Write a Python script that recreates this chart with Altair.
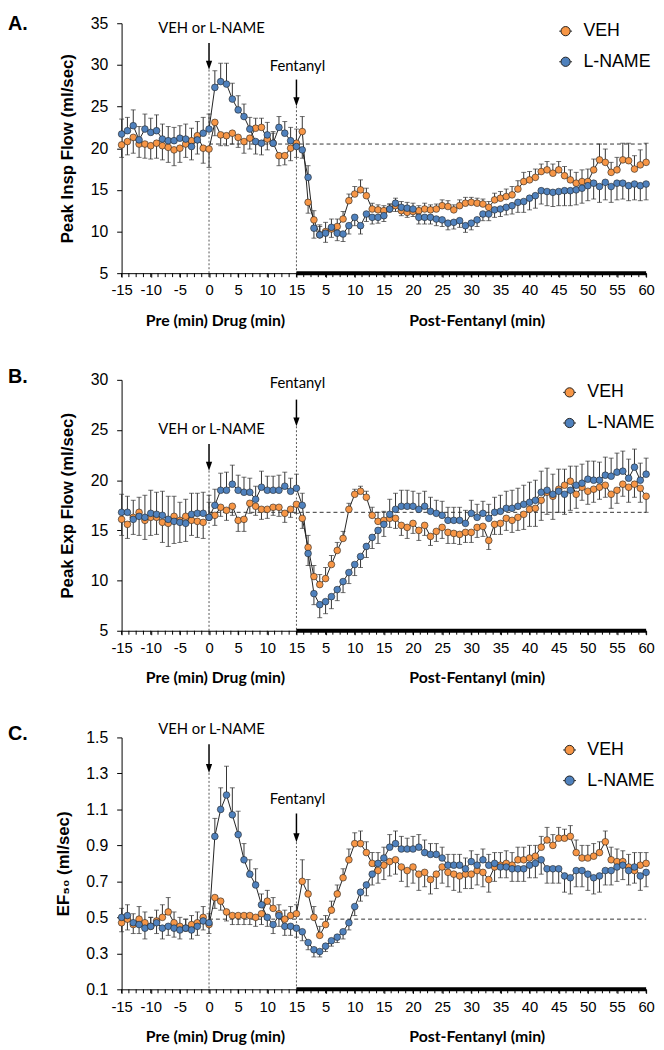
import altair as alt
import pandas as pd

# ---------------- time bases ----------------
PRE_T = list(range(-15, 1))      # pre-drug minutes
DRUG_T = list(range(1, 16))      # drug minutes
POST_T = list(range(1, 61))      # post-fentanyl minutes
DRUG_LEN = 15

# ---------------- Panel A : Peak Insp Flow ----------------
A_VEH = ([20.4, 20.8, 21.3, 20.5, 20.5, 20.3, 20.6, 20.3, 20.1, 19.8, 20.0, 20.5, 20.9, 21.5, 20.0, 19.9] +
         [23.1, 21.6, 21.5, 21.8, 21.3, 20.8, 21.2, 22.4, 22.5, 21.1, 20.6, 19.1, 19.1, 20.0, 20.6] +
         [22.0, 13.5, 11.4, 9.6, 10.0, 10.3, 10.6, 11.5, 13.7, 14.5,
          15.0, 14.3, 12.7, 12.6, 12.5, 12.7, 13.1, 12.5, 12.3, 12.4,
          12.5, 12.7, 12.6, 12.7, 13.1, 13.0, 12.6, 13.1, 13.4, 13.5,
          13.4, 13.3, 12.9, 13.8, 14.0, 14.2, 14.4, 15.1, 16.0, 16.2,
          16.5, 17.2, 17.4, 17.0, 17.4, 16.7, 16.2, 15.8, 16.0, 16.0,
          17.4, 18.6, 18.3, 17.1, 17.4, 18.6, 18.5, 17.5, 18.0, 18.3])
A_VEH_SEM = ([1.5, 1.6, 1.9, 1.6, 1.7, 1.6, 1.8, 1.7, 1.8, 1.9, 1.7, 1.6, 1.5, 1.7, 1.8, 2.2] +
             [1.6, 1.3, 1.2, 1.3, 1.2, 1.4, 1.3, 1.2, 1.1, 1.3, 1.2, 1.2, 1.1, 1.5, 1.7] +
             [1.8, 1.3, 1.1, 1.2, 1.1, 1.0, 0.9, 0.9, 0.8, 0.9,
              1.2, 0.9, 0.7, 0.6, 0.6, 0.6, 0.7, 0.6, 0.6, 0.6,
              0.6, 0.7, 0.6, 0.6, 0.7, 0.7, 0.6, 0.7, 0.7, 0.6,
              0.6, 0.6, 0.7, 0.8, 0.8, 0.9, 1.0, 1.0, 1.1, 1.0,
              1.0, 0.9, 1.0, 1.1, 1.0, 1.1, 1.2, 1.3, 1.4, 1.5,
              1.3, 1.9, 1.6, 1.2, 1.5, 2.0, 2.1, 1.6, 1.8, 2.3])
A_LNAME = ([21.7, 22.1, 22.7, 21.0, 22.3, 21.9, 22.1, 21.1, 20.9, 20.9, 21.2, 21.1, 20.2, 21.0, 21.8, 22.3] +
           [27.3, 28.0, 27.7, 25.9, 24.6, 23.8, 22.3, 20.8, 20.6, 21.6, 20.6, 22.5, 21.8, 20.9, 20.2] +
           [19.8, 16.5, 10.4, 9.6, 9.8, 10.5, 9.8, 9.7, 10.7, 11.7,
            10.7, 12.1, 11.7, 11.7, 11.9, 12.7, 13.4, 12.9, 12.8, 12.7,
            11.7, 11.7, 11.7, 11.5, 11.4, 11.0, 11.1, 11.3, 10.7, 11.0,
            11.4, 12.1, 12.1, 12.6, 12.7, 12.9, 13.1, 13.5, 13.6, 14.0,
            14.3, 14.9, 14.8, 14.7, 14.8, 14.9, 14.9, 15.0, 15.2, 15.5,
            15.8, 15.4, 15.9, 15.4, 15.8, 15.8, 15.5, 15.7, 15.5, 15.7])
A_LNAME_SEM = ([1.8, 1.6, 1.9, 1.6, 1.8, 1.7, 1.9, 1.8, 1.7, 1.6, 1.5, 1.8, 1.6, 1.7, 1.9, 1.8] +
               [2.0, 2.2, 2.5, 1.9, 1.7, 1.5, 1.4, 1.5, 1.4, 1.5, 1.4, 1.3, 1.4, 1.6, 1.3] +
               [1.0, 1.4, 1.2, 1.0, 1.1, 1.0, 0.9, 0.9, 1.0, 1.0,
                1.0, 0.9, 0.8, 0.7, 0.7, 0.6, 0.6, 0.7, 0.7, 0.7,
                0.8, 0.8, 0.8, 0.8, 0.8, 0.8, 0.8, 0.8, 0.8, 0.8,
                0.8, 0.8, 0.8, 0.9, 0.9, 0.9, 1.0, 1.2, 1.3, 1.4,
                1.5, 1.6, 1.7, 1.7, 1.7, 1.8, 1.8, 1.8, 1.8, 1.8,
                1.9, 1.9, 2.1, 1.9, 2.0, 1.9, 1.8, 1.9, 1.8, 1.9])

# ---------------- Panel B : Peak Exp Flow ----------------
B_VEH = ([16.1, 15.6, 16.3, 16.8, 16.0, 16.3, 16.3, 15.8, 15.7, 16.4, 16.0, 16.4, 16.0, 15.9, 15.8, 16.3] +
         [16.5, 17.3, 17.0, 17.4, 16.0, 16.1, 17.7, 17.4, 17.1, 17.1, 17.3, 17.3, 16.7, 17.1, 17.6] +
         [16.2, 13.3, 10.4, 9.6, 10.2, 11.6, 13.0, 14.2, 17.1, 18.6,
          18.9, 18.3, 16.5, 15.9, 16.0, 16.2, 16.2, 15.5, 15.3, 15.7,
          15.0, 15.5, 14.4, 14.9, 15.3, 14.8, 14.7, 14.6, 14.8, 14.8,
          15.3, 15.4, 14.0, 15.6, 15.7, 16.2, 16.0, 16.3, 16.6, 17.1,
          17.2, 18.0, 18.8, 18.4, 19.1, 19.5, 19.9, 18.6, 19.3, 18.9,
          19.1, 19.3, 19.5, 18.6, 19.0, 19.6, 19.3, 19.6, 19.2, 18.4])
B_VEH_SEM = ([1.6, 1.4, 1.7, 1.5, 1.9, 1.8, 1.7, 2.0, 2.3, 2.0, 1.8, 1.7, 1.5, 1.6, 1.6, 1.5] +
             [1.0, 0.9, 1.0, 0.9, 1.1, 1.2, 1.0, 0.9, 1.0, 0.9, 0.8, 0.9, 0.9, 0.8, 0.9] +
             [1.0, 1.2, 1.1, 1.0, 1.1, 0.9, 0.8, 0.7, 0.6, 0.5,
              0.5, 0.6, 0.8, 0.9, 0.9, 0.9, 1.0, 1.0, 1.1, 1.0,
              1.0, 1.0, 0.9, 1.0, 1.1, 1.1, 1.0, 1.0, 1.0, 1.0,
              1.0, 1.0, 0.9, 1.0, 1.1, 1.2, 1.2, 1.3, 1.5, 1.7,
              1.8, 2.0, 2.2, 2.3, 2.0, 1.6, 1.5, 1.4, 1.3, 1.3,
              1.3, 1.2, 1.2, 1.4, 1.3, 1.2, 1.5, 1.3, 1.4, 1.6])
B_LNAME = ([16.8, 16.8, 16.1, 16.4, 16.3, 16.7, 16.6, 16.5, 16.1, 15.9, 15.8, 15.7, 16.6, 16.7, 16.7, 16.3] +
           [17.5, 19.0, 19.0, 19.6, 19.0, 18.8, 18.8, 18.1, 19.3, 19.0, 19.0, 19.0, 19.4, 18.9, 19.2] +
           [17.5, 12.7, 8.7, 7.6, 7.9, 8.4, 9.1, 9.9, 10.8, 11.6,
            12.4, 13.4, 14.3, 15.0, 15.6, 16.6, 17.1, 17.4, 17.4, 17.4,
            17.1, 17.4, 16.9, 16.7, 16.5, 16.0, 16.0, 16.0, 15.7, 16.7,
            16.3, 16.7, 16.2, 16.8, 16.9, 17.2, 17.2, 17.4, 17.6, 17.8,
            18.0, 18.8, 19.0, 18.6, 18.9, 18.6, 19.0, 19.5, 19.7, 20.1,
            20.0, 20.0, 20.5, 20.4, 20.8, 20.9, 20.2, 21.3, 20.0, 20.6])
B_LNAME_SEM = ([1.8, 1.6, 1.5, 1.9, 2.2, 2.3, 2.2, 2.4, 2.3, 2.2, 2.0, 1.8, 2.1, 2.0, 2.1, 2.2] +
               [1.6, 1.7, 1.8, 1.9, 1.5, 1.5, 1.4, 1.3, 1.6, 1.4, 1.4, 1.5, 1.4, 1.3, 1.4] +
               [1.2, 1.2, 1.1, 1.3, 1.2, 1.2, 1.1, 1.1, 1.1, 1.1,
                1.1, 1.1, 1.1, 1.3, 1.2, 1.5, 1.6, 1.6, 1.6, 1.5,
                1.6, 1.5, 1.4, 1.3, 1.4, 1.3, 1.3, 1.3, 1.3, 1.3,
                1.3, 1.2, 1.4, 1.5, 1.6, 1.7, 1.8, 1.8, 1.9, 2.0,
                2.0, 2.1, 2.2, 2.0, 2.1, 2.0, 2.0, 1.9, 1.9, 1.8,
                1.9, 1.8, 1.8, 1.8, 1.9, 2.0, 1.9, 1.8, 1.7, 1.6])

# ---------------- Panel C : EF50 ----------------
C_VEH = ([0.47, 0.49, 0.46, 0.49, 0.47, 0.45, 0.48, 0.50, 0.53, 0.47, 0.45, 0.44, 0.46, 0.47, 0.50, 0.46] +
         [0.61, 0.59, 0.53, 0.51, 0.51, 0.51, 0.51, 0.50, 0.52, 0.59, 0.55, 0.52, 0.49, 0.51, 0.52] +
         [0.70, 0.63, 0.50, 0.40, 0.46, 0.54, 0.63, 0.72, 0.82, 0.91,
          0.91, 0.86, 0.80, 0.76, 0.79, 0.81, 0.82, 0.78, 0.76, 0.78,
          0.74, 0.75, 0.71, 0.74, 0.78, 0.75, 0.74, 0.73, 0.74, 0.74,
          0.76, 0.75, 0.71, 0.78, 0.79, 0.80, 0.79, 0.82, 0.82, 0.83,
          0.84, 0.89, 0.93, 0.90, 0.94, 0.94, 0.95, 0.86, 0.83, 0.83,
          0.84, 0.86, 0.92, 0.82, 0.81, 0.81, 0.78, 0.76, 0.79, 0.80])
C_VEH_SEM = ([0.05, 0.06, 0.05, 0.07, 0.06, 0.05, 0.06, 0.07, 0.08, 0.06, 0.05, 0.05, 0.05, 0.06, 0.06, 0.05] +
             [0.06, 0.05, 0.05, 0.05, 0.05, 0.05, 0.05, 0.05, 0.06, 0.06, 0.06, 0.05, 0.05, 0.05, 0.05] +
             [0.12, 0.08, 0.06, 0.05, 0.05, 0.05, 0.05, 0.05, 0.06, 0.06,
              0.07, 0.06, 0.06, 0.07, 0.08, 0.08, 0.08, 0.08, 0.09, 0.09,
              0.09, 0.08, 0.08, 0.08, 0.09, 0.08, 0.09, 0.09, 0.08, 0.08,
              0.08, 0.08, 0.07, 0.08, 0.07, 0.07, 0.07, 0.07, 0.07, 0.07,
              0.06, 0.06, 0.07, 0.06, 0.06, 0.05, 0.06, 0.07, 0.07, 0.07,
              0.07, 0.06, 0.06, 0.07, 0.07, 0.06, 0.07, 0.07, 0.07, 0.06])
C_LNAME = ([0.50, 0.51, 0.47, 0.46, 0.44, 0.45, 0.47, 0.44, 0.45, 0.44, 0.43, 0.44, 0.43, 0.45, 0.48, 0.47] +
           [0.95, 1.10, 1.18, 1.07, 0.96, 0.82, 0.74, 0.68, 0.57, 0.50, 0.46, 0.51, 0.45, 0.45, 0.44] +
           [0.42, 0.36, 0.32, 0.31, 0.34, 0.37, 0.39, 0.42, 0.47, 0.56,
            0.64, 0.68, 0.74, 0.80, 0.83, 0.89, 0.91, 0.88, 0.88, 0.88,
            0.89, 0.86, 0.85, 0.85, 0.83, 0.79, 0.79, 0.79, 0.77, 0.81,
            0.79, 0.82, 0.79, 0.80, 0.78, 0.78, 0.77, 0.77, 0.77, 0.79,
            0.80, 0.82, 0.77, 0.77, 0.77, 0.73, 0.72, 0.76, 0.76, 0.74,
            0.72, 0.73, 0.76, 0.76, 0.78, 0.79, 0.76, 0.78, 0.73, 0.75])
C_LNAME_SEM = ([0.05, 0.06, 0.05, 0.05, 0.06, 0.05, 0.06, 0.06, 0.05, 0.05, 0.05, 0.05, 0.05, 0.05, 0.05, 0.05] +
               [0.10, 0.12, 0.16, 0.15, 0.13, 0.09, 0.08, 0.09, 0.06, 0.05, 0.05, 0.06, 0.05, 0.05, 0.05] +
               [0.05, 0.04, 0.04, 0.03, 0.03, 0.03, 0.03, 0.04, 0.04, 0.05,
                0.05, 0.06, 0.06, 0.06, 0.06, 0.07, 0.07, 0.07, 0.06, 0.07,
                0.07, 0.07, 0.06, 0.06, 0.06, 0.06, 0.06, 0.06, 0.06, 0.06,
                0.06, 0.06, 0.06, 0.06, 0.06, 0.06, 0.07, 0.07, 0.07, 0.07,
                0.08, 0.08, 0.08, 0.08, 0.08, 0.09, 0.09, 0.09, 0.09, 0.09,
                0.09, 0.09, 0.08, 0.08, 0.08, 0.08, 0.08, 0.08, 0.08, 0.08])

SERIES = ["VEH", "L-NAME"]
COLORS = ["#F79646", "#4F81BD"]

SANS = "Liberation Sans, Arial, sans-serif"
CAL = "Lato, Carlito, Calibri, sans-serif"
W = 531
ONE = pd.DataFrame({"k": [0]})
ARROW_HEAD = "M-0.7,-1L0,1L0.7,-1Z"
LEG_SYMBOL = ("M-1,0L-0.72,0M0.72,0L1,0M-0.72,0A0.72,0.72 0 1,0 0.72,0"
              "A0.72,0.72 0 1,0 -0.72,0Z")

X_MAJOR = [-15 + 5 * i for i in range(19)]
X_MINOR = pd.DataFrame({"pos": [-15 + 1.25 * i for i in range(73)]})
X_LABEL_EXPR = "datum.value > 15 ? '' + (datum.value - 15) : '' + datum.value"


def build(veh, veh_sem, ln, ln_sem):
    pos = PRE_T + DRUG_T + [DRUG_LEN + t for t in POST_T]
    rows = []
    for name, vals, sems, other in (("VEH", veh, veh_sem, ln), ("L-NAME", ln, ln_sem, veh)):
        for p, v, s, o in zip(pos, vals, sems, other):
            d = 1 if v >= o else -1
            rows.append({"pos": p, "value": v, "series": name, "cap": v + d * s})
    return pd.DataFrame(rows)


def note(text, x, y, size, font, weight="normal", align="center", baseline="middle", opacity=1.0):
    return alt.Chart(ONE).mark_text(
        text=text, font=font, fontSize=size, fontWeight=weight, align=align,
        baseline=baseline, color="black", opacity=opacity
    ).encode(x=alt.value(x), y=alt.value(y))


def arrow(xv, y0, y1, h):
    shaft = alt.Chart(ONE).mark_rule(color="black", strokeWidth=1.5).encode(
        x=alt.datum(xv), y=alt.value(y0), y2=alt.value(y1 - 6))
    head = alt.Chart(ONE).mark_point(shape=ARROW_HEAD, filled=True, color="black",
                                     size=81, opacity=1).encode(
        x=alt.datum(xv), y=alt.value(y1 - 4.5))
    dots = alt.Chart(ONE).mark_rule(color="#555", strokeWidth=1, strokeDash=[2, 2]).encode(
        x=alt.datum(xv), y=alt.value(y1), y2=alt.value(h))
    return [dots, shaft, head]


def panel(letter, df, ytitle, ydom, yvals, yfmt, base, h, ann, leg):
    xs = alt.Scale(domain=[-15, 75], nice=False, zero=False)
    ys = alt.Scale(domain=ydom, nice=False, zero=False)
    xax = alt.Axis(values=X_MAJOR, tickCount=200, labelExpr=X_LABEL_EXPR, title=None,
                   labelOverlap=False, labelFlush=False, labelFont=SANS, labelFontSize=15,
                   tickSize=4, labelPadding=6, domainColor="black", tickColor="black",
                   labelColor="black", grid=False)
    yax = alt.Axis(values=yvals, tickCount=200, format=yfmt, title=ytitle, labelFont=SANS,
                   labelFontSize=16, labelOverlap=False, labelFlush=False,
                   tickSize=5, labelPadding=9, titleFont=SANS, titleFontSize=17,
                   titleFontWeight="bold", titlePadding=14, titleColor="black",
                   domainColor="black", tickColor="black", labelColor="black", grid=False)
    X = alt.X("pos:Q", scale=xs, axis=xax)
    Y = alt.Y("value:Q", scale=ys, axis=yax)
    Ycap = alt.Y("cap:Q", scale=ys, axis=yax)

    c = alt.Chart(df)
    minor = alt.Chart(X_MINOR).mark_rule(color="black", strokeWidth=1).encode(
        x=X, y=alt.value(h), y2=alt.value(h + 4))
    err = c.mark_rule(color="#333", strokeWidth=1).encode(x=X, y=Y, y2="cap:Q")
    caps = c.mark_tick(color="#333", orient="horizontal", size=5, thickness=1).encode(x=X, y=Ycap)
    line = c.mark_line(color="#222", strokeWidth=1).encode(x=X, y=Y, detail="series:N", order="pos:Q")
    pts = c.mark_point(filled=True, shape="circle", size=46, stroke="#222", strokeWidth=0.6,
                       opacity=1).encode(
        x=X, y=Y,
        fill=alt.Fill("series:N", sort=SERIES,
                      scale=alt.Scale(domain=SERIES, range=COLORS),
                      legend=alt.Legend(title=None, orient="none", legendX=leg[0], legendY=leg[1],
                                        symbolType=LEG_SYMBOL, symbolSize=169,
                                        symbolStrokeColor="#222", symbolStrokeWidth=1,
                                        labelFont=SANS, labelFontSize=18, labelColor="black",
                                        rowPadding=13, labelOffset=9, padding=0,
                                        symbolOpacity=1)))

    dashed = alt.Chart(ONE).mark_rule(color="#333", strokeWidth=1, strokeDash=[4, 3]).encode(
        x=alt.datum(0), x2=alt.datum(75), y=alt.datum(base))
    bar = alt.Chart(ONE).mark_rule(color="black", strokeWidth=4).encode(
        x=alt.datum(DRUG_LEN), x2=alt.datum(75), y=alt.value(h))

    layers = [minor]
    layers += arrow(0, ann["a0"][0], ann["a0"][1], h)
    layers += arrow(DRUG_LEN, ann["a15"][0], ann["a15"][1], h)
    layers += [dashed, bar, err, caps, line, pts]
    layers += [
        note("VEH or L-NAME", 91, ann["t0"], 15, CAL),
        note("Fentanyl", 178, ann["t15"], 15, CAL),
        note(letter, -115, ann["letter"], 20, SANS, weight="bold", align="left", baseline="top"),
        note("Pre (min)    Drug (min)", 95, h + 48, 16, CAL, weight="bold"),
        note("Post-Fentanyl (min)", 360, h + 48, 16, CAL, weight="bold"),
    ]
    if ann.get("spacer") is not None:
        layers.append(note(".", 0, ann["spacer"], 10, SANS, baseline="top", opacity=0))
    return alt.layer(*layers).properties(width=W, height=h)


dfA = build(A_VEH, A_VEH_SEM, A_LNAME, A_LNAME_SEM)
dfB = build(B_VEH, B_VEH_SEM, B_LNAME, B_LNAME_SEM)
dfC = build(C_VEH, C_VEH_SEM, C_LNAME, C_LNAME_SEM)

pA = panel("A.", dfA, "Peak Insp Flow (ml/sec)", [5, 35], [5, 10, 15, 20, 25, 30, 35], "d",
           20.5, 253, {"a0": (20, 47), "a15": (57, 84), "t0": 5, "t15": 43,
                       "letter": -9, "spacer": None},
           (440.5, -1))
pB = panel("B.", dfB, "Peak Exp Flow (ml/sec)", [5, 30], [5, 10, 15, 20, 25, 30], "d",
           16.8, 254, {"a0": (65, 92), "a15": (20, 47), "t0": 50, "t15": 3,
                       "letter": -13, "spacer": -16},
           (444.5, 3.7))
pC = panel("C.", dfC, "EF\u2085\u2080 (ml/sec)", [0.1, 1.5],
           [0.1, 0.3, 0.5, 0.7, 0.9, 1.1, 1.3, 1.5], ".1f",
           0.49, 255, {"a0": (7, 36), "a15": (77, 106), "t0": -8, "t15": 62,
                       "letter": -13, "spacer": -16},
           (444.5, 3.7))

chart = (alt.vconcat(pA, pB, pC, spacing=36)
         .resolve_scale(y="independent", fill="independent")
         .resolve_legend(fill="independent")
         .properties(padding=0)
         .configure_axis(labelOverlap=False)
         .configure_view(stroke=None))

chart.save("out.html", embed_options={"renderer": "svg", "actions": False})
